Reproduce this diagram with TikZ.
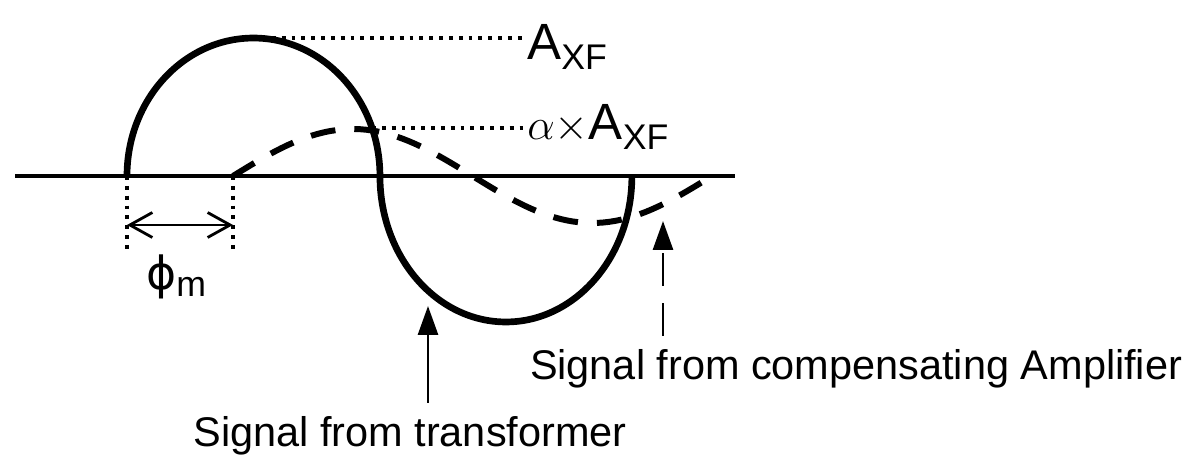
\documentclass[tikz,border=0pt]{standalone}
\usepackage{fontspec}
\setmainfont{Liberation Sans}
\newfontfamily\grk{DejaVu Sans}
\usetikzlibrary{positioning,arrows.meta}

\begin{document}
\begin{tikzpicture}[
  x=0.02cm, y=-0.02cm,
  axis/.style={line width=2.2pt},
  wave/.style={line width=3.8pt},
  comp/.style={line width=3.4pt, dash pattern=on 0.5cm off 0.38cm},
  guide/.style={line width=2.2pt, dash pattern=on 2.2pt off 3.4pt},
  lvl/.style={font=\fontsize{29}{34}\selectfont, inner sep=0pt},
  caption/.style={font=\fontsize{23.6}{28}\selectfont, inner sep=0pt, outer sep=0.28cm},
  pointer/.style={line width=1.6pt, -{Triangle[length=0.58cm, width=0.4cm]}},
  span/.style={line width=1.6pt, {Straight Barb[length=0.45cm, width=0.5cm]}-{Straight Barb[length=0.45cm, width=0.5cm]}}
]
  \useasboundingbox (0,0) rectangle (1204,462);
  \coordinate (ax0) at (15,176);
  \coordinate (ax1) at (735,176);
  \coordinate (s0) at (127,176);
  \coordinate (c0) at (233,176);
  \coordinate (top) at (262,38);
  \coordinate (apk) at (372,128);
  \coordinate (tb) at (428,306);
  \coordinate (ca) at (663,221);
  \coordinate (p0) at (127,250);
  \coordinate (p1) at (233,250);
  \coordinate (pa) at (127,225);
  \coordinate (pb) at (233,225);

  \node[lvl, anchor=base west] (AXF) at (527,60) {A\textsubscript{XF}};
  \node[lvl, anchor=base west] (aAXF) at (527,140) {$\alpha\times$A\textsubscript{XF}};
  \node[lvl, anchor=base west] (phim) at (146,290) {{\grk\fontsize{26}{30}\selectfont ϕ}\textsubscript{m}};
  \node[caption, anchor=base] (trans) at (410,447) {Signal from transformer};
  \node[caption, anchor=base west] (amp) at (516,380) {Signal from compensating Amplifier};

  \draw[axis] (ax0) -- (ax1);
  \draw[wave] (s0) arc[start angle=180, end angle=0, x radius=2.53cm, y radius=2.76cm]
    arc[start angle=180, end angle=360, x radius=2.52cm, y radius=2.92cm];
  \draw[comp] plot[domain=233:712, samples=80] (\x, {176-47*sin((\x-233)*0.75157)});

  \draw[guide] (top) -- (top -| AXF.west);
  \draw[guide] (apk) -- (apk -| aAXF.west);
  \draw[guide] (s0) -- (p0);
  \draw[guide] (c0) -- (p1);
  \draw[span] (pa) -- (pb);

  \draw[pointer] (trans.north -| tb) -- (tb);
  \draw[pointer, dash pattern=on 0.66cm off 0.34cm] (amp.north -| ca) -- (ca);
\end{tikzpicture}
\end{document}
